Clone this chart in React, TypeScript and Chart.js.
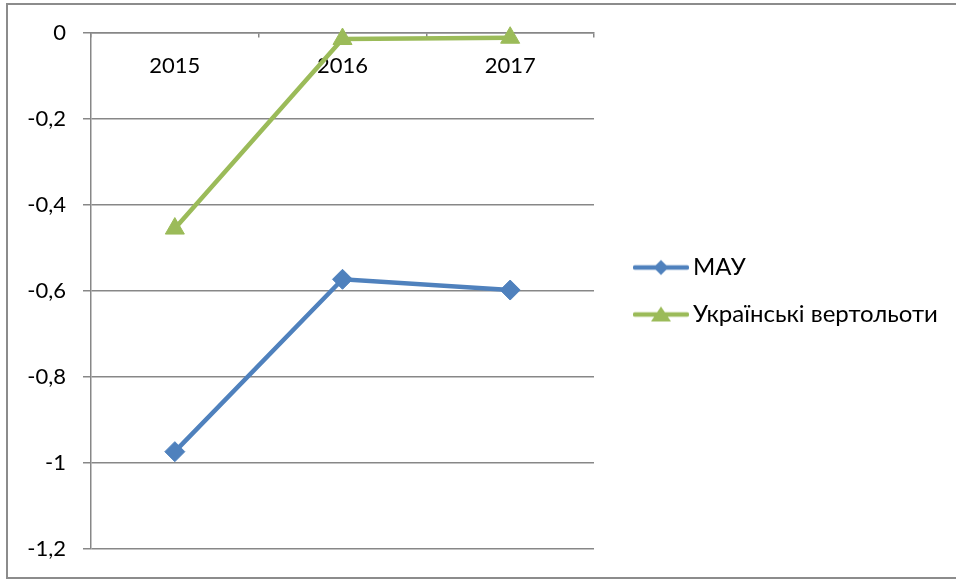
import { useEffect, useRef } from 'react';
import { Chart, registerables } from 'chart.js';

Chart.register(...registerables);

const categories = ['2015', '2016', '2017'];
const seriesNames = ['МАУ', 'Українські вертольоти'];
const mauValues = [-0.974, -0.573, -0.598];
const heliValues = [-0.455, -0.014, -0.011];
const yTickValues = [-1.2, -1, -0.8, -0.6, -0.4, -0.2, 0];
const yTickLabels = ['-1,2', '-1', '-0,8', '-0,6', '-0,4', '-0,2', '0'];

const W = 956;
const H = 579;
const BLUE = '#4F81BD';
const GREEN = '#9BBB59';
const GRID = '#878787';
const FONT_FAMILY = 'Lato';
const AXIS_FONT_SIZE = 22;
const LEGEND_FONT_SIZE = 24;
const PLOT_LEFT = 91;
const PLOT_RIGHT = 594;
const PLOT_TOP = 33;
const PLOT_BOTTOM = 549;
const LEGEND_ITEM_X = 641;
const LEGEND_PAD = 23;
const LEGEND_BOX_W = 40;

function legendIcon(color: string, shape: 'diamond' | 'triangle') {
  const c = document.createElement('canvas');
  c.width = 56;
  c.height = 24;
  const ctx = c.getContext('2d')!;
  ctx.strokeStyle = color;
  ctx.lineWidth = 4.5;
  ctx.lineCap = 'round';
  ctx.beginPath();
  ctx.moveTo(2, 12);
  ctx.lineTo(54, 12);
  ctx.stroke();
  ctx.fillStyle = color;
  ctx.beginPath();
  if (shape === 'diamond') {
    ctx.moveTo(28, 4.5);
    ctx.lineTo(35.5, 12);
    ctx.lineTo(28, 19.5);
    ctx.lineTo(20.5, 12);
  } else {
    ctx.moveTo(28, 4);
    ctx.lineTo(38, 19);
    ctx.lineTo(18, 19);
  }
  ctx.closePath();
  ctx.fill();
  return c;
}

export default function App() {
  const ref = useRef<HTMLCanvasElement>(null);

  useEffect(() => {
    const canvas = ref.current!;
    const icons = [legendIcon(BLUE, 'diamond'), legendIcon(GREEN, 'triangle')];

    const legendPlacer = {
      id: 'legendPlacer',
      beforeLayout(chart: any) {
        const lg = chart.legend;
        if (lg && !lg.__patched) {
          const orig = lg.fit.bind(lg);
          lg.fit = () => {
            orig();
            if (!lg.isHorizontal()) lg.width = W - PLOT_RIGHT;
          };
          lg.__patched = true;
        }
      },
      beforeDraw(chart: any) {
        const lg = chart.legend;
        if (lg) lg.left = LEGEND_ITEM_X - LEGEND_PAD;
      },
    };

    const chart = new Chart(canvas, {
      type: 'line',
      data: {
        labels: categories,
        datasets: [
          {
            label: seriesNames[0],
            data: mauValues,
            borderColor: BLUE,
            backgroundColor: BLUE,
            borderWidth: 4.5,
            pointStyle: 'rectRot',
            pointRadius: 10,
            pointBorderWidth: 1,
            pointBackgroundColor: BLUE,
            pointBorderColor: BLUE,
            tension: 0,
            clip: false as any,
          },
          {
            label: seriesNames[1],
            data: heliValues,
            borderColor: GREEN,
            backgroundColor: GREEN,
            borderWidth: 4.5,
            pointStyle: 'triangle',
            pointRadius: 11,
            pointBorderWidth: 1,
            pointBackgroundColor: GREEN,
            pointBorderColor: GREEN,
            tension: 0,
            clip: false as any,
          },
        ],
      },
      options: {
        responsive: false,
        animation: false,
        devicePixelRatio: 1,
        layout: {
          padding: { left: 0, right: 0, top: PLOT_TOP, bottom: H - PLOT_BOTTOM },
        },
        plugins: {
          tooltip: { enabled: false },
          legend: {
            position: 'right',
            align: 'center',
            labels: {
              usePointStyle: true,
              pointStyleWidth: LEGEND_BOX_W,
              padding: LEGEND_PAD,
              color: '#000',
              font: { family: FONT_FAMILY, size: LEGEND_FONT_SIZE },
              generateLabels: (ch: any) =>
                ch.data.datasets.map((ds: any, i: number) => ({
                  text: ds.label,
                  pointStyle: icons[i],
                  fillStyle: ds.borderColor,
                  strokeStyle: ds.borderColor,
                  lineWidth: 0,
                  hidden: false,
                  datasetIndex: i,
                  fontColor: '#000',
                })),
            },
          },
        },
        scales: {
          x: {
            type: 'category',
            axis: 'x',
            position: { y: 0 } as any,
            offset: true,
            grid: {
              offset: true,
              drawOnChartArea: false,
              tickLength: 4,
              color: GRID,
              lineWidth: 1.5,
            },
            border: { display: true, color: GRID, width: 1.5 },
            ticks: {
              color: '#000',
              padding: 16,
              maxRotation: 0,
              font: { family: FONT_FAMILY, size: AXIS_FONT_SIZE },
            },
          },
          y: {
            type: 'linear',
            position: 'left',
            min: -1.2,
            max: 0,
            afterFit: (s: any) => {
              s.width = PLOT_LEFT;
            },
            afterBuildTicks: (s: any) => {
              s.ticks = yTickValues.map((v) => ({ value: v }));
            },
            grid: { color: GRID, lineWidth: 1.5, tickLength: 8 },
            border: { display: true, color: GRID, width: 1.5 },
            ticks: {
              color: '#000',
              padding: 17,
              font: { family: FONT_FAMILY, size: AXIS_FONT_SIZE },
              callback: (v: any) => {
                const i = yTickValues.findIndex((t) => Math.abs(t - Number(v)) < 1e-9);
                return i >= 0 ? yTickLabels[i] : '';
              },
            },
          },
        },
      },
      plugins: [legendPlacer],
    });

    return () => chart.destroy();
  }, []);

  return (
    <div
      style={{
        position: 'fixed',
        left: 0,
        top: 0,
        width: W,
        height: H,
        overflow: 'hidden',
        background: '#fff',
      }}
    >
      <div
        style={{
          position: 'absolute',
          left: 6,
          top: 3,
          width: 1000,
          height: 576,
          border: '2px solid #8c8c8c',
          boxSizing: 'border-box',
        }}
      />
      <canvas ref={ref} width={W} height={H} style={{ position: 'absolute', left: 0, top: 0, width: W, height: H }} />
    </div>
  );
}
